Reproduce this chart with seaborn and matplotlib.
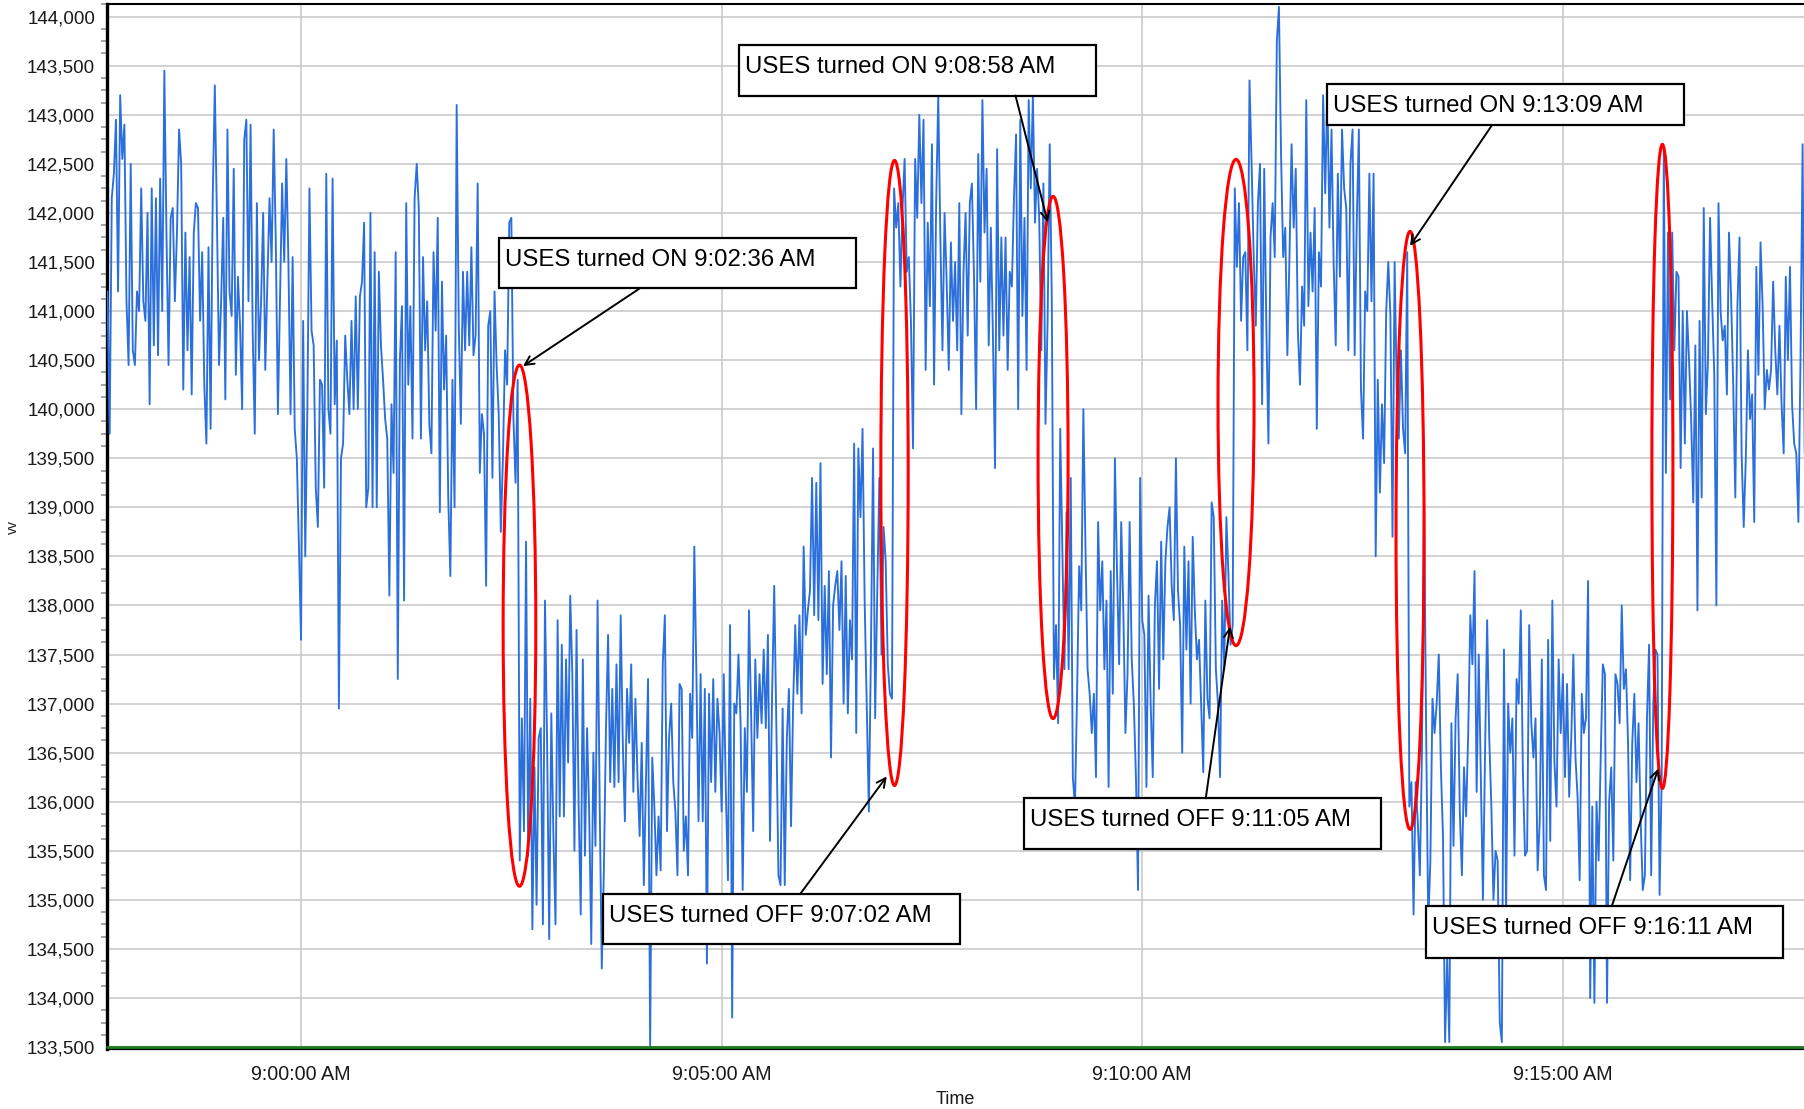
import numpy as np
import pandas as pd
import matplotlib
matplotlib.use("Agg")
import matplotlib.pyplot as plt
import matplotlib.dates as mdates
from matplotlib.patches import Ellipse, Rectangle
from matplotlib.ticker import FuncFormatter, MultipleLocator
import seaborn as sns

# ---------------- data (1.5 s sampling) ----------------
DAY = "2024-01-01 "
START = DAY + "08:57:42"
STEP = "1500ms"

high_0857 = [
    141200, 139750, 142150, 142400, 142950, 141200, 143200, 142550, 142900, 141100,
    140450, 142500, 140600, 140450, 141200, 141000, 142250, 141100, 140900, 142000,
    140050, 142250, 140650, 142150, 140550, 142350, 141000, 143450, 141800, 140450,
    141950, 142050, 141100, 141800, 142850, 142500, 140200, 141800, 140600, 141550,
    140150, 141800, 142100, 142050, 140900, 141600, 140250, 139650, 141650, 139800,
    142150, 143300, 141950, 140450, 141100, 141950, 140100, 142850, 141200, 140950,
    142450, 140350, 141350, 140850, 140000, 142750, 142950, 141100, 142900, 140800,
    139750, 142100, 140500, 141100, 142000, 140400, 141300, 142150, 141500, 142850,
    141700, 139950, 141100, 142300, 141500, 142550, 141500, 139950, 141550, 139800,
    139500, 138600,
    137650, 140900, 138500, 140000, 142250, 140800, 140650, 139200, 138800, 140300,
    140250, 139200, 142400, 140000, 139750, 142350, 140050, 140700, 136950, 139500,
    139650, 140750, 140300, 139950, 140900, 140000, 141150, 140000, 141150, 141300,
    141900, 139000, 139200, 142000, 139000, 141600, 139000, 141400, 140650, 140300,
    139900, 139700, 138100,
    140050, 139350, 141600, 137250, 140500, 141050, 138050, 142100, 140250, 141050,
    139700, 142150, 142500, 142050, 139700, 141550, 140600, 141100, 139850, 139550,
    141600, 140800, 141950, 138950, 141300, 140200, 140750, 139100, 138300, 140300,
    139000, 143100, 140850, 139850, 141400, 140600, 141400, 140650, 141650, 140550,
    140750, 142300, 139350, 139950, 139750, 138200, 140850, 141000, 139300, 141200,
    140450, 139950, 138750, 139500, 140600, 140250, 141900, 141950, 139900, 139250,
    140300,
]

low_0902 = [
    135400, 136850, 135700, 138650, 135450, 137050, 134700, 136350, 134950, 136650,
    136750, 134750, 138050, 136600, 134600, 136900, 135650, 134750, 137850, 135850,
    137600, 135850, 137450, 136400, 138100, 137300, 135500, 137750, 135950, 134850,
    137450, 135450, 136750, 135900, 134550, 136500, 135550, 138050, 136000, 134300,
    135300, 136750, 137700, 136200, 137150, 136150, 137400, 136200, 137900, 136600,
    135800, 137150, 136600, 137400, 136100, 137050, 136250, 135650, 136600, 135150,
    136200, 137250, 133500, 136450, 135950, 135250, 135850, 135300, 137400, 137900,
    135700, 136650, 137000, 136200, 135900, 135250, 137200,
    137150, 135500, 135850, 135250, 137100, 136650, 138600, 137300, 135800, 137300,
    135800, 137150, 134350, 137100, 136200, 137250, 136100, 137050, 136700, 135900,
    137300, 136100, 135200, 137800, 133800, 137000, 136900, 137500, 136800, 135100,
    136750, 136100, 137950, 136900, 135700, 137450, 136650, 137300, 136800, 137550,
    136750, 137700, 135600, 137100, 138200, 136800, 135250, 135150, 136950, 135150,
    136650, 137150, 135750, 137000, 137800, 137100, 137900, 136900, 138600, 137700,
    137950, 138150, 139300, 137900, 139250, 137850, 139450, 137200, 138200, 137300,
    138350, 136450, 138000, 138200, 138350, 137750, 138450, 137000, 138300, 136900,
    137850, 137450, 139650, 136700, 139600, 138900, 139800, 138050, 137000, 135900,
    137550, 139600, 136850, 138150, 139300, 137500, 138800, 138450, 137400, 137100,
    137050,
]

high_0907 = [
    142250, 141850, 142100, 141250, 142050, 142550, 141400, 141550, 140900, 139600,
    142550, 141950, 143000, 142100, 142950, 140400, 141900, 141050, 142700, 140250,
    142100, 143200, 141750, 140600, 142000, 141300, 140400, 141700, 140900, 141500,
    140600, 142100,
    139950, 141400, 142000, 140750, 142100, 142300, 141350, 140000, 142600, 141300,
    143150, 141800, 142450, 140650, 141850, 140750, 139400, 142650, 140600, 141750,
    140750, 141750, 140400, 141400, 141250, 142150, 142800, 140000, 142950, 140950,
    141950, 140400, 143150, 142250, 143200, 141900, 142450, 141950, 140600, 142300,
    139850, 140900, 142700, 141100,
]

low_0908 = [
    137250, 137800, 136800, 139800, 138550, 137350, 138950, 137350, 139300, 136250,
    135950, 137100, 138400, 137950, 140000, 138600, 137350, 137100, 136700, 137100,
    136250, 138850, 137950, 138450, 137350, 138050, 136150, 138350, 137100, 139500,
    138350, 137400, 138850, 137950, 136700, 137300, 138850, 137450, 137000, 136250,
    135100, 139300, 137850, 137700, 136150, 138100, 137000, 136250, 138000, 138450,
    137150, 138650, 137450, 138450, 138800, 139000, 138200, 137850, 139500, 138150,
    137800, 136500, 138600, 137550, 138450, 137000, 138700, 137950, 137450, 137650,
    137000, 136300, 138050, 137050, 136850, 139050, 138900, 137350, 137000, 136250,
    138050, 137350, 138900, 138300, 137600, 137800,
]

high_0911 = [
    142250, 141450, 142100, 140900, 141550, 141600, 140600, 143350, 142500, 141550,
    140850, 142100, 142500, 140050, 142450, 140850, 139650, 141750, 142100, 141550,
    143750, 144100, 142600, 141550, 141850, 140550, 141550, 142700, 141850, 142450,
    140800, 140250, 141250, 140850, 143150, 141050, 141800, 141200, 142050, 139800,
    141600, 141250, 143200, 142200, 143250, 141850, 142850, 141500, 140650, 142400,
    141350, 142850, 142250, 142050, 140600, 142500, 142850, 140550, 141900, 142850,
    140200, 139700, 141200, 141000, 142400, 141100, 142400, 138500, 140300, 139150,
    140050, 139450, 141000, 141500, 140950, 138700, 141500, 140200, 139700, 140600,
    139800, 139550, 141600,
]

low_0913 = [
    135950, 136200, 134850, 136200, 135800, 135250, 136500, 139150, 136700, 134750,
    135400, 137050, 136700, 137000, 137500, 136350, 135650, 133550, 134400, 133550,
    136800, 135550, 136850, 137300, 135900, 135250, 136350, 135850, 136700, 137900,
    137400, 138350, 136100, 137500, 136250, 135000, 136500, 137850, 136650, 135950,
    135000, 135500, 135400, 133750, 133550, 137550, 134850, 137000, 136500, 136850,
    135450, 137250, 137000,
    137950, 136300, 135450, 135500, 137800, 136800, 136450, 136850, 135300, 135800,
    137450, 135250, 135100, 137650, 135600, 138050, 136400, 135950, 137450, 136700,
    137300, 136250, 137200, 136050, 136650, 137500, 136450, 136050, 135200, 137100,
    136700, 136850, 138250, 134000, 135950, 133950, 136000, 135400, 136450, 137400,
    137300, 133950, 136000, 136350, 135400, 137300, 137200, 136800, 138000, 137150,
    137350, 136600, 135200, 136600, 137100, 136200, 136800, 135800, 135100, 135250,
    136850, 137600, 135250, 137000, 137550, 137500, 135050, 136250,
]

high_0916 = [
    142650, 139350, 141800, 140100, 141800, 140600, 141400, 141350, 139400, 141000,
    139650, 141000, 140500, 139900, 139050, 140650, 137950, 140900, 139100, 142050,
    139950, 140500, 141950, 141100, 140350, 138000, 142100, 141000, 140700, 140850,
    140150, 141800, 141150, 140250, 139100, 141050, 141750, 139550, 138800, 139500,
    140600, 139900, 140150, 138850, 141450, 140350, 141700, 141050, 140000, 140400,
    140200, 140400, 141300, 140600, 140150, 140850, 140050, 139550, 141350, 140500,
    141450, 140050, 139650, 139550, 138850, 140500, 142700, 139550,
]

values = np.array(high_0857 + low_0902 + high_0907 + low_0908
                  + high_0911 + low_0913 + high_0916, dtype=float)
times = pd.date_range(START, periods=len(values), freq=STEP)
df = pd.DataFrame({"Time": times, "vv": values})

# event annotations:
# (label, state, box left, box top, box height, arrow tail time, arrow tip time, arrow tip value)
events = [
    ("USES turned ON 9:02:36 AM", "on", "09:02:21.2", 141741, 508, "09:04:01.8", "09:02:38.3", 140439),
    ("USES turned OFF 9:07:02 AM", "off", "09:03:35.4", 135057, 509, "09:05:55.9", "09:06:57.8", 136258),
    ("USES turned ON 9:08:58 AM", "on", "09:05:12.4", 143715, 519, "09:08:29.6", "09:08:52.6", 141904),
    ("USES turned OFF 9:11:05 AM", "off", "09:08:35.7", 136034, 519, "09:10:45.3", "09:11:02.6", 137784),
    ("USES turned ON 9:13:09 AM", "on", "09:12:11.8", 143318, 427, "09:14:09.3", "09:13:11.0", 141664),
    ("USES turned OFF 9:16:11 AM", "off", "09:13:22.4", 134935, 529, "09:15:34.9", "09:16:08.1", 136339),
]
BOX_SECONDS = 254.7

# highlighted transitions: (centre time, width seconds, centre value, height)
rings = [
    ("09:02:35.8", 23.3, 137794, 5311),
    ("09:07:03.3", 19.5, 139350, 6369),
    ("09:08:56.4", 21.4, 139508, 5322),
    ("09:11:06.9", 25.7, 140068, 4955),
    ("09:13:11.0", 20.0, 138765, 6094),
    ("09:16:11.0", 15.0, 139417, 6563),
]

# ---------------- drawing ----------------
sns.set_style("white")
plt.rcParams["font.family"] = ["Liberation Sans", "DejaVu Sans"]

def T(s):
    return pd.Timestamp(DAY + s)

def tnum(s):
    return mdates.date2num(T(s))

fig = plt.figure(figsize=(18.04, 11.09), dpi=100)
ax = fig.add_axes([107 / 1804, 60 / 1109, 1697 / 1804, 1044.7 / 1109])

sns.lineplot(data=df, x="Time", y="vv", ax=ax, color="#2a6fdb",
             linewidth=1.35, estimator=None, zorder=3)

ax.set_xlim(T("08:57:41.6"), T("09:17:52.0"))
ax.set_ylim(133480, 144126)

ax.xaxis.set_major_locator(mdates.MinuteLocator(byminute=range(0, 60, 5)))

def fmt_time(x, pos):
    d = mdates.num2date(x)
    h = d.hour % 12 or 12
    return f"{h}:{d:%M:%S} {'AM' if d.hour < 12 else 'PM'}"

ax.xaxis.set_major_formatter(FuncFormatter(fmt_time))
ax.yaxis.set_major_locator(MultipleLocator(500))
ax.yaxis.set_minor_locator(MultipleLocator(125))
ax.yaxis.set_major_formatter(FuncFormatter(lambda v, p: f"{v:,.0f}"))

ax.grid(True, which="major", color="#c6c6c6", linewidth=1.1)
ax.set_axisbelow(True)

ax.tick_params(axis="both", which="major", direction="out", length=6.5,
               width=1.1, color="#8a8a8a", labelcolor="#1a1a1a")
ax.tick_params(axis="y", which="major", pad=2, labelsize=13.6)
ax.tick_params(axis="x", which="major", pad=5, labelsize=14.2)
ax.tick_params(axis="y", which="minor", direction="out", length=4.3,
               width=1.1, color="#8a8a8a", left=True)

ax.spines["right"].set_visible(False)
ax.spines["left"].set_color("black")
ax.spines["left"].set_linewidth(2.4)
ax.spines["top"].set_color("black")
ax.spines["top"].set_linewidth(1.5)
ax.spines["bottom"].set_color("black")
ax.spines["bottom"].set_linewidth(1.6)
ax.axhline(133500, color="#1e7b1e", linewidth=2.0, zorder=4, clip_on=False)

ax.set_xlabel("Time", fontsize=13, color="#1a1a1a", labelpad=5)
ax.set_ylabel("vv", fontsize=10, color="#1a1a1a")
ax.yaxis.set_label_coords(-0.051, 0.5)

for centre, width_s, yc, h in rings:
    ax.add_patch(Ellipse((tnum(centre), yc), width_s / 86400.0, h,
                         fill=False, edgecolor="#ff0000", linewidth=2.2, zorder=5))

for label, state, left, top, height, tail_t, tip_t, tip_v in events:
    x0 = tnum(left)
    ax.add_patch(Rectangle((x0, top - height), BOX_SECONDS / 86400.0, height,
                           facecolor="white", edgecolor="black", linewidth=1.6, zorder=6))
    ax.annotate(label, xy=(x0, top), xytext=(4.3, -20.2), textcoords="offset points",
                ha="left", va="baseline", fontsize=17.3, color="black", zorder=7)
    tail_v = top - height if state == "on" else top
    ax.annotate("", xy=(tnum(tip_t), tip_v), xytext=(tnum(tail_t), tail_v),
                arrowprops=dict(arrowstyle="->", color="black", lw=1.4,
                                shrinkA=0, shrinkB=0, mutation_scale=16), zorder=8)

fig.savefig("out.png", dpi=100)
